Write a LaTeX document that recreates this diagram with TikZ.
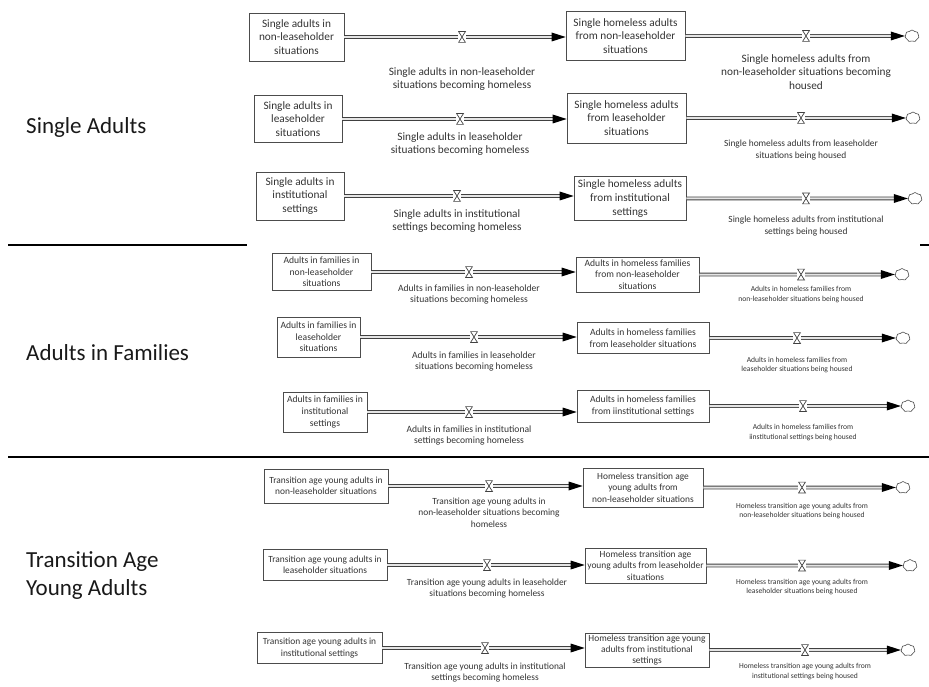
\documentclass[tikz,border=0pt]{standalone}
\usepackage{fontspec}
\setmainfont{Carlito}
\usetikzlibrary{shapes.symbols,decorations.markings}
\tikzset{
    stock/.style={rectangle, draw=black!70, line width=.7pt, align=center, inner sep=1pt, text=black!80},
    pipe/.style={draw=black!75, line width=.8pt, double=black!10, double distance=2pt, shorten >=12pt,
        postaction={decorate, decoration={markings, mark=at position 1 with {\fill[black, shorten >=0pt] (0,0) -- (-14pt,4.5pt) -- (-14pt,-4.5pt) -- cycle;}}}},
    valve/.style={rectangle, minimum width=8pt, minimum height=12pt, inner sep=0pt, fill=white,
        path picture={\draw[black!75, line width=.7pt]
            ([shift={(.6pt,-.6pt)}]path picture bounding box.north west) -- ([shift={(-.6pt,-.6pt)}]path picture bounding box.north east) --
            ([shift={(.6pt,.6pt)}]path picture bounding box.south west) -- ([shift={(-.6pt,.6pt)}]path picture bounding box.south east) -- cycle;}},
    sink/.style={cloud, cloud puffs=7, cloud puff arc=110, aspect=1.2, draw=black!70, fill=white, line width=.6pt,
        minimum width=14pt, minimum height=12pt, inner sep=0pt},
    flowlabel/.style={align=center, inner sep=0pt, text=black!80},
    group/.style={anchor=west, align=left, inner sep=0pt, text=black!90, font=\fontsize{23}{28}\selectfont},
    rule/.style={line width=2.5pt, black},
    thinrule/.style={line width=1.2pt, black},
    fa/.style={font=\fontsize{11.3}{13.6}\selectfont},
    fb/.style={font=\fontsize{9.6}{11.6}\selectfont},
    fc/.style={font=\fontsize{7.6}{9.4}\selectfont},
    fd/.style={font=\fontsize{9.4}{11.3}\selectfont}
}
\begin{document}
\begin{tikzpicture}[x=1pt, y=-1pt]
    \useasboundingbox (0,0) rectangle (929,687);

    % group labels and rules
    \node[group] (g1) at (26,127) {Single Adults};
    \node[group] (g2) at (26,353) {Adults in Families};
    \node[group] (g3) at (26,576) {Transition Age\\Young Adults};
    \draw[rule] (8,245) -- (247,245);
    \draw[rule] (920,245) -- (929,245);
    \draw[rule] (8,457) -- (247,457);
    \draw[thinrule] (247,457) -- (929,457);

    % Nodes: single adults
    \node[stock, fa, minimum width=95pt, minimum height=48pt] (src1) at (296.5,37) {Single adults in\\non-leaseholder\\situations};
    \node[stock, fa, minimum width=119pt, minimum height=49pt] (hom1) at (625.5,36) {Single homeless adults\\from non-leaseholder\\situations};
    \node[sink] (snk1) at (912,36) {};
    \node[stock, fa, minimum width=88pt, minimum height=47pt] (src2) at (298,119) {Single adults in\\leaseholder\\situations};
    \node[stock, fa, minimum width=119pt, minimum height=50pt] (hom2) at (626.5,118) {Single homeless adults\\from leaseholder\\situations};
    \node[sink] (snk2) at (913,118) {};
    \node[stock, fa, minimum width=88pt, minimum height=48pt] (src3) at (300,196) {Single adults in\\institutional\\settings};
    \node[stock, fa, minimum width=112pt, minimum height=44pt] (hom3) at (630,198.5) {Single homeless adults\\from institutional\\settings};
    \node[sink] (snk3) at (915,198.5) {};

    % Nodes: adults in families
    \node[stock, fb, minimum width=99pt, minimum height=37pt] (src4) at (321.5,272) {Adults in families in\\non-leaseholder\\situations};
    \node[stock, fb, minimum width=123pt, minimum height=35pt] (hom4) at (637.5,274.5) {Adults in homeless families\\from non-leaseholder\\situations};
    \node[sink] (snk4) at (902,274.5) {};
    \node[stock, fb, minimum width=83pt, minimum height=40pt] (src5) at (318.5,337) {Adults in families in\\leaseholder\\situations};
    \node[stock, fb, minimum width=132pt, minimum height=31pt] (hom5) at (643,338) {Adults in homeless families\\from leaseholder situations};
    \node[sink] (snk5) at (903,338) {};
    \node[stock, fb, minimum width=84pt, minimum height=40pt] (src6) at (325,412) {Adults in families in\\institutional\\settings};
    \node[stock, fb, minimum width=132pt, minimum height=32pt] (hom6) at (643,406) {Adults in homeless families\\from iinstitutional settings};
    \node[sink] (snk6) at (908,406) {};

    % Nodes: transition age young adults
    \node[stock, fd, minimum width=124pt, minimum height=34pt] (src7) at (326,486) {Transition age young adults in\\non-leaseholder situations};
    \node[stock, fd, minimum width=120pt, minimum height=39pt] (hom7) at (643,487.5) {Homeless transition age\\young adults from\\non-leaseholder situations};
    \node[sink] (snk7) at (903,487.5) {};
    \node[stock, fd, minimum width=124pt, minimum height=31pt] (src8) at (325,565) {Transition age young adults in\\leaseholder situations};
    \node[stock, fd, minimum width=121pt, minimum height=35pt] (hom8) at (645.5,565.5) {Homeless transition age\\young adults from leaseholder\\situations};
    \node[sink] (snk8) at (910,565.5) {};
    \node[stock, fd, minimum width=125pt, minimum height=31pt] (src9) at (319.5,648) {Transition age young adults in\\institutional settings};
    \node[stock, fd, minimum width=124pt, minimum height=34pt] (hom9) at (647,650) {Homeless transition age young\\adults from institutional\\settings};
    \node[sink] (snk9) at (908,650) {};

    % flows
    \draw[pipe] (src1) -- (src1 -| hom1.west);
    \draw[pipe] (hom1) -- (snk1);
    \draw[pipe] (src2) -- (src2 -| hom2.west);
    \draw[pipe] (hom2) -- (snk2);
    \draw[pipe] (src3) -- (src3 -| hom3.west);
    \draw[pipe] (hom3) -- (snk3);
    \draw[pipe] (src4) -- (src4 -| hom4.west);
    \draw[pipe] (hom4) -- (snk4);
    \draw[pipe] (src5) -- (src5 -| hom5.west);
    \draw[pipe] (hom5) -- (snk5);
    \draw[pipe] (src6) -- (src6 -| hom6.west);
    \draw[pipe] (hom6) -- (snk6);
    \draw[pipe] (src7) -- (src7 -| hom7.west);
    \draw[pipe] (hom7) -- (snk7);
    \draw[pipe] (src8) -- (src8 -| hom8.west);
    \draw[pipe] (hom8) -- (snk8);
    \draw[pipe] (src9) -- (src9 -| hom9.west);
    \draw[pipe] (hom9) -- (snk9);

    % valves
    \node[valve] (vin1) at (462,37) {};
    \node[valve] (vout1) at (806,36) {};
    \node[valve] (vin2) at (460,119) {};
    \node[valve] (vout2) at (801,118) {};
    \node[valve] (vin3) at (457,196) {};
    \node[valve] (vout3) at (806,198.5) {};
    \node[valve] (vin4) at (469,272) {};
    \node[valve] (vout4) at (801,274.5) {};
    \node[valve] (vin5) at (474,337) {};
    \node[valve] (vout5) at (797,338) {};
    \node[valve] (vin6) at (469,412) {};
    \node[valve] (vout6) at (803,406) {};
    \node[valve] (vin7) at (489,486) {};
    \node[valve] (vout7) at (802,487.5) {};
    \node[valve] (vin8) at (487,565) {};
    \node[valve] (vout8) at (802,565.5) {};
    \node[valve] (vin9) at (485,648) {};
    \node[valve] (vout9) at (805,650) {};

    % flow labels
    \node[flowlabel, fa] (lin1) at (462,79) {Single adults in non-leaseholder\\situations becoming homeless};
    \node[flowlabel, fa] (lout1) at (806,72) {Single homeless adults from\\non-leaseholder situations becoming\\housed};
    \node[flowlabel, fa] (lin2) at (460,144) {Single adults in leaseholder\\situations becoming homeless};
    \node[flowlabel, fd] (lout2) at (801,150) {Single homeless adults from leaseholder\\situations being housed};
    \node[flowlabel, fa] (lin3) at (457,221) {Single adults in institutional\\settings becoming homeless};
    \node[flowlabel, fd] (lout3) at (806,226) {Single homeless adults from institutional\\settings being housed};
    \node[flowlabel, fb] (lin4) at (469,294.5) {Adults in families in non-leaseholder\\situations becoming homeless};
    \node[flowlabel, fc] (lout4) at (801,294.5) {Adults in homeless families from\\non-leaseholder situations being housed};
    \node[flowlabel, fb] (lin5) at (474,361.5) {Adults in families in leaseholder\\situations becoming homeless};
    \node[flowlabel, fc] (lout5) at (797,365) {Adults in homeless families from\\leaseholder situations being housed};
    \node[flowlabel, fb] (lin6) at (469,435.5) {Adults in families in institutional\\settings becoming homeless};
    \node[flowlabel, fc] (lout6) at (803,432.5) {Adults in homeless families from\\iinstitutional settings being housed};
    \node[flowlabel, fd] (lin7) at (489,512.5) {Transition age young adults in\\non-leaseholder situations becoming\\homeless};
    \node[flowlabel, fc] (lout7) at (802,511) {Homeless transition age young adults from\\non-leaseholder situations being housed};
    \node[flowlabel, fd] (lin8) at (487,588.5) {Transition age young adults in leaseholder\\situations becoming homeless};
    \node[flowlabel, fc] (lout8) at (802,587) {Homeless transition age young adults from\\leaseholder situations being housed};
    \node[flowlabel, fd] (lin9) at (485,672.5) {Transition age young adults in institutional\\settings becoming homeless};
    \node[flowlabel, fc] (lout9) at (805,671.5) {Homeless transition age young adults from\\institutional settings being housed};
\end{tikzpicture}
\end{document}
